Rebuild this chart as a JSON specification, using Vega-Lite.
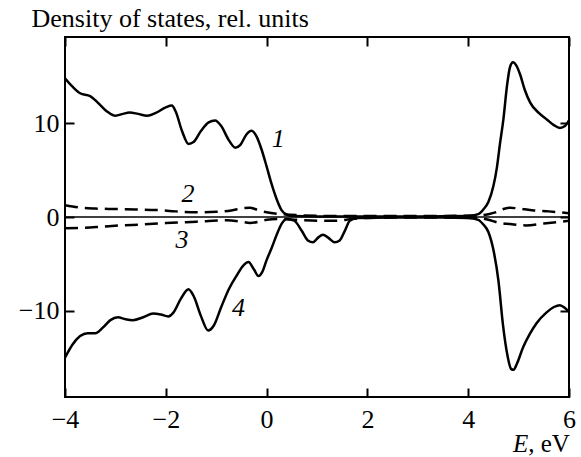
{
  "$schema": "https://vega.github.io/schema/vega-lite/v6.json",
  "width": 504,
  "height": 360,
  "autosize": "none",
  "padding": {"left": 65, "top": 37, "right": 12, "bottom": 60},
  "config": {
    "view": {"stroke": "black", "strokeWidth": 2},
    "font": "Liberation Serif, Times New Roman, serif"
  },
  "datasets": {
    "curves": [
      {"s": 1, "E": -4.0, "d": 14.8}, {"s": 1, "E": -3.85, "d": 13.9}, {"s": 1, "E": -3.7, "d": 13.2}, {"s": 1, "E": -3.5, "d": 12.9},
      {"s": 1, "E": -3.35, "d": 12.2}, {"s": 1, "E": -3.15, "d": 11.2}, {"s": 1, "E": -3.0, "d": 10.8}, {"s": 1, "E": -2.85, "d": 11.0},
      {"s": 1, "E": -2.72, "d": 11.15}, {"s": 1, "E": -2.55, "d": 11.0}, {"s": 1, "E": -2.37, "d": 10.8}, {"s": 1, "E": -2.2, "d": 11.1},
      {"s": 1, "E": -2.0, "d": 11.7}, {"s": 1, "E": -1.88, "d": 11.9}, {"s": 1, "E": -1.8, "d": 11.2}, {"s": 1, "E": -1.68, "d": 9.2},
      {"s": 1, "E": -1.55, "d": 7.8}, {"s": 1, "E": -1.45, "d": 8.0}, {"s": 1, "E": -1.3, "d": 9.2}, {"s": 1, "E": -1.15, "d": 10.1},
      {"s": 1, "E": -1.02, "d": 10.3}, {"s": 1, "E": -0.9, "d": 9.7}, {"s": 1, "E": -0.75, "d": 8.2}, {"s": 1, "E": -0.62, "d": 7.4},
      {"s": 1, "E": -0.52, "d": 7.7}, {"s": 1, "E": -0.4, "d": 8.8}, {"s": 1, "E": -0.3, "d": 9.2}, {"s": 1, "E": -0.2, "d": 8.6},
      {"s": 1, "E": -0.1, "d": 7.2}, {"s": 1, "E": 0.0, "d": 5.4}, {"s": 1, "E": 0.1, "d": 3.5}, {"s": 1, "E": 0.2, "d": 1.9},
      {"s": 1, "E": 0.3, "d": 0.7}, {"s": 1, "E": 0.4, "d": 0.25}, {"s": 1, "E": 0.5, "d": 0.1}, {"s": 1, "E": 1.0, "d": 0.05},
      {"s": 1, "E": 2.0, "d": 0.05}, {"s": 1, "E": 3.0, "d": 0.05}, {"s": 1, "E": 4.0, "d": 0.1}, {"s": 1, "E": 4.2, "d": 0.3},
      {"s": 1, "E": 4.3, "d": 0.8}, {"s": 1, "E": 4.4, "d": 1.6}, {"s": 1, "E": 4.5, "d": 3.3}, {"s": 1, "E": 4.57, "d": 5.3},
      {"s": 1, "E": 4.63, "d": 7.8}, {"s": 1, "E": 4.7, "d": 10.5}, {"s": 1, "E": 4.77, "d": 14.0}, {"s": 1, "E": 4.83, "d": 16.0},
      {"s": 1, "E": 4.89, "d": 16.5}, {"s": 1, "E": 4.95, "d": 16.2}, {"s": 1, "E": 5.03, "d": 15.2}, {"s": 1, "E": 5.12, "d": 13.6},
      {"s": 1, "E": 5.23, "d": 12.2}, {"s": 1, "E": 5.4, "d": 11.1}, {"s": 1, "E": 5.56, "d": 10.4}, {"s": 1, "E": 5.7, "d": 9.8},
      {"s": 1, "E": 5.82, "d": 9.5}, {"s": 1, "E": 5.92, "d": 9.7}, {"s": 1, "E": 6.0, "d": 10.3},

      {"s": 4, "E": -4.0, "d": -15.0}, {"s": 4, "E": -3.85, "d": -13.6}, {"s": 4, "E": -3.7, "d": -12.7}, {"s": 4, "E": -3.55, "d": -12.4},
      {"s": 4, "E": -3.4, "d": -12.4}, {"s": 4, "E": -3.25, "d": -11.8}, {"s": 4, "E": -3.1, "d": -11.0}, {"s": 4, "E": -2.95, "d": -10.7},
      {"s": 4, "E": -2.8, "d": -10.9}, {"s": 4, "E": -2.65, "d": -11.0}, {"s": 4, "E": -2.45, "d": -10.7}, {"s": 4, "E": -2.25, "d": -10.3},
      {"s": 4, "E": -2.1, "d": -10.4}, {"s": 4, "E": -1.95, "d": -10.6}, {"s": 4, "E": -1.85, "d": -10.2}, {"s": 4, "E": -1.7, "d": -8.7},
      {"s": 4, "E": -1.55, "d": -7.7}, {"s": 4, "E": -1.45, "d": -8.4}, {"s": 4, "E": -1.3, "d": -10.6}, {"s": 4, "E": -1.16, "d": -12.1},
      {"s": 4, "E": -1.05, "d": -11.6}, {"s": 4, "E": -0.9, "d": -9.6}, {"s": 4, "E": -0.75, "d": -7.7}, {"s": 4, "E": -0.6, "d": -6.3},
      {"s": 4, "E": -0.45, "d": -5.1}, {"s": 4, "E": -0.36, "d": -4.8}, {"s": 4, "E": -0.25, "d": -5.6}, {"s": 4, "E": -0.16, "d": -6.3},
      {"s": 4, "E": -0.08, "d": -5.8}, {"s": 4, "E": 0.0, "d": -4.6}, {"s": 4, "E": 0.1, "d": -3.3}, {"s": 4, "E": 0.2, "d": -1.9},
      {"s": 4, "E": 0.3, "d": -0.7}, {"s": 4, "E": 0.4, "d": -0.2}, {"s": 4, "E": 0.55, "d": -0.4}, {"s": 4, "E": 0.7, "d": -1.5},
      {"s": 4, "E": 0.82, "d": -2.5}, {"s": 4, "E": 0.92, "d": -2.7}, {"s": 4, "E": 1.02, "d": -2.2}, {"s": 4, "E": 1.12, "d": -1.9},
      {"s": 4, "E": 1.22, "d": -2.2}, {"s": 4, "E": 1.35, "d": -2.7}, {"s": 4, "E": 1.45, "d": -2.5}, {"s": 4, "E": 1.55, "d": -1.5},
      {"s": 4, "E": 1.65, "d": -0.4}, {"s": 4, "E": 1.8, "d": -0.1}, {"s": 4, "E": 2.5, "d": -0.05}, {"s": 4, "E": 3.5, "d": -0.05},
      {"s": 4, "E": 4.0, "d": -0.1}, {"s": 4, "E": 4.2, "d": -0.3}, {"s": 4, "E": 4.3, "d": -0.8}, {"s": 4, "E": 4.4, "d": -1.6},
      {"s": 4, "E": 4.5, "d": -3.5}, {"s": 4, "E": 4.6, "d": -6.8}, {"s": 4, "E": 4.69, "d": -11.5}, {"s": 4, "E": 4.78, "d": -14.8},
      {"s": 4, "E": 4.85, "d": -16.2}, {"s": 4, "E": 4.9, "d": -16.3}, {"s": 4, "E": 4.97, "d": -15.6}, {"s": 4, "E": 5.09, "d": -13.9},
      {"s": 4, "E": 5.22, "d": -12.5}, {"s": 4, "E": 5.36, "d": -11.3}, {"s": 4, "E": 5.55, "d": -10.2}, {"s": 4, "E": 5.7, "d": -9.6},
      {"s": 4, "E": 5.82, "d": -9.4}, {"s": 4, "E": 5.92, "d": -9.7}, {"s": 4, "E": 6.0, "d": -10.1},

      {"s": 2, "E": -4.0, "d": 1.25}, {"s": 2, "E": -3.7, "d": 1.0}, {"s": 2, "E": -3.4, "d": 0.9}, {"s": 2, "E": -3.0, "d": 0.85},
      {"s": 2, "E": -2.6, "d": 0.8}, {"s": 2, "E": -2.2, "d": 0.75}, {"s": 2, "E": -1.8, "d": 0.6}, {"s": 2, "E": -1.4, "d": 0.5},
      {"s": 2, "E": -1.0, "d": 0.55}, {"s": 2, "E": -0.7, "d": 0.7}, {"s": 2, "E": -0.45, "d": 0.95}, {"s": 2, "E": -0.33, "d": 1.0},
      {"s": 2, "E": -0.2, "d": 0.8}, {"s": 2, "E": 0.0, "d": 0.5}, {"s": 2, "E": 0.3, "d": 0.3}, {"s": 2, "E": 0.6, "d": 0.2},
      {"s": 2, "E": 1.5, "d": 0.1}, {"s": 2, "E": 3.0, "d": 0.1}, {"s": 2, "E": 4.2, "d": 0.15}, {"s": 2, "E": 4.4, "d": 0.3},
      {"s": 2, "E": 4.57, "d": 0.55}, {"s": 2, "E": 4.7, "d": 0.85}, {"s": 2, "E": 4.83, "d": 1.0}, {"s": 2, "E": 5.0, "d": 0.9},
      {"s": 2, "E": 5.3, "d": 0.7}, {"s": 2, "E": 5.6, "d": 0.6}, {"s": 2, "E": 6.0, "d": 0.4},

      {"s": 3, "E": -4.0, "d": -1.2}, {"s": 3, "E": -3.6, "d": -1.15}, {"s": 3, "E": -3.3, "d": -1.05}, {"s": 3, "E": -2.9, "d": -0.9},
      {"s": 3, "E": -2.5, "d": -0.8}, {"s": 3, "E": -2.0, "d": -0.65}, {"s": 3, "E": -1.6, "d": -0.55}, {"s": 3, "E": -1.2, "d": -0.45},
      {"s": 3, "E": -0.8, "d": -0.35}, {"s": 3, "E": -0.5, "d": -0.5}, {"s": 3, "E": -0.33, "d": -0.65}, {"s": 3, "E": -0.15, "d": -0.5},
      {"s": 3, "E": 0.0, "d": -0.3}, {"s": 3, "E": 0.3, "d": -0.2}, {"s": 3, "E": 0.6, "d": -0.3}, {"s": 3, "E": 1.0, "d": -0.4},
      {"s": 3, "E": 1.4, "d": -0.4}, {"s": 3, "E": 1.7, "d": -0.2}, {"s": 3, "E": 2.0, "d": -0.1}, {"s": 3, "E": 3.0, "d": -0.05},
      {"s": 3, "E": 4.2, "d": -0.1}, {"s": 3, "E": 4.4, "d": -0.3}, {"s": 3, "E": 4.6, "d": -0.6}, {"s": 3, "E": 4.83, "d": -0.75},
      {"s": 3, "E": 5.15, "d": -0.9}, {"s": 3, "E": 5.5, "d": -0.7}, {"s": 3, "E": 6.0, "d": -0.4}
    ],
    "labels": [
      {"t": "1", "E": 0.23, "d": 8.3},
      {"t": "2", "E": -1.56, "d": 2.5},
      {"t": "3", "E": -1.68, "d": -2.5},
      {"t": "4", "E": -0.56, "d": -9.7}
    ]
  },
  "layer": [
    {
      "data": {"values": [{"d": 0}]},
      "mark": {"type": "rule", "color": "black", "strokeWidth": 1.4},
      "encoding": {
        "y": {"field": "d", "type": "quantitative", "axis": null}
      }
    },
    {
      "data": {"name": "curves"},
      "transform": [{"filter": "datum.s == 1 || datum.s == 4"}],
      "mark": {"type": "line", "color": "black", "strokeWidth": 2.5, "interpolate": "monotone", "clip": true},
      "encoding": {
        "x": {
          "field": "E", "type": "quantitative",
          "scale": {"domain": [-4, 6], "nice": false, "zero": false},
          "axis": {
            "orient": "bottom", "title": null, "values": [-4, -2, 0, 2, 4, 6],
            "domain": false, "grid": false, "tickColor": "black", "tickWidth": 2, "tickSize": -9,
            "labelFont": "Liberation Serif, Times New Roman, serif", "labelFontSize": 26, "labelColor": "black", "labelPadding": 18,
            "labelBaseline": "top", "labelFlush": false
          }
        },
        "y": {
          "field": "d", "type": "quantitative",
          "scale": {"domain": [-19.2, 19.2], "nice": false, "zero": false},
          "axis": {
            "orient": "left", "values": [-10, 0, 10],
            "domain": false, "grid": false, "tickColor": "black", "tickWidth": 2, "tickSize": -9,
            "labelFont": "Liberation Serif, Times New Roman, serif", "labelFontSize": 26, "labelColor": "black", "labelPadding": 15,
            "labelBaseline": "middle", "labelFlush": false,
            "title": "Density of states, rel. units", "titleAngle": 0, "titleX": -34, "titleY": -11,
            "titleAlign": "left", "titleBaseline": "alphabetic", "titleFont": "Liberation Serif, Times New Roman, serif",
            "titleFontSize": 26, "titleFontWeight": "normal", "titleColor": "black"
          }
        },
        "detail": {"field": "s"}
      }
    },
    {
      "data": {"name": "curves"},
      "transform": [{"filter": "datum.s == 2 || datum.s == 3"}],
      "mark": {"type": "line", "color": "black", "strokeWidth": 2.5, "strokeDash": [13, 7], "interpolate": "monotone", "clip": true},
      "encoding": {
        "x": {
          "field": "E", "type": "quantitative",
          "axis": {
            "orient": "top", "title": null, "values": [-4, -2, 0, 2, 4, 6], "labels": false,
            "domain": false, "grid": false, "tickColor": "black", "tickWidth": 2, "tickSize": -9
          }
        },
        "y": {
          "field": "d", "type": "quantitative",
          "axis": {
            "orient": "right", "title": null, "values": [-10, 0, 10], "labels": false,
            "domain": false, "grid": false, "tickColor": "black", "tickWidth": 2, "tickSize": -9
          }
        },
        "detail": {"field": "s"}
      }
    },
    {
      "data": {"name": "labels"},
      "mark": {"type": "text", "font": "Liberation Serif, Times New Roman, serif", "fontStyle": "italic", "fontSize": 26, "color": "black", "align": "center", "baseline": "middle"},
      "encoding": {
        "x": {"field": "E", "type": "quantitative", "axis": null},
        "y": {"field": "d", "type": "quantitative", "axis": null},
        "text": {"field": "t"}
      }
    },
    {
      "data": {"values": [{"t": "E", "E": 5.19, "d": -25.1}]},
      "mark": {"type": "text", "font": "Liberation Serif, Times New Roman, serif", "fontStyle": "italic", "fontSize": 25, "color": "black", "align": "right", "baseline": "alphabetic", "clip": false},
      "encoding": {
        "x": {"field": "E", "type": "quantitative", "axis": null},
        "y": {"field": "d", "type": "quantitative", "axis": null},
        "text": {"field": "t"}
      }
    },
    {
      "data": {"values": [{"t": ", eV", "E": 5.19, "d": -25.1}]},
      "mark": {"type": "text", "font": "Liberation Serif, Times New Roman, serif", "fontSize": 25, "color": "black", "align": "left", "baseline": "alphabetic", "clip": false},
      "encoding": {
        "x": {"field": "E", "type": "quantitative", "axis": null},
        "y": {"field": "d", "type": "quantitative", "axis": null},
        "text": {"field": "t"}
      }
    }
  ],
  "resolve": {"axis": {"x": "independent", "y": "independent"}}
}
